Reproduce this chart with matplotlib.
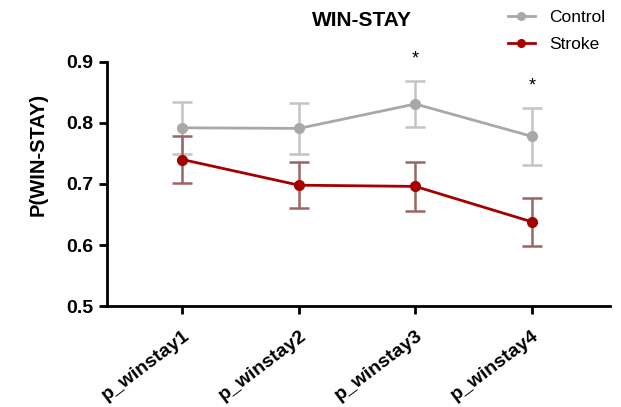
import numpy as np
import matplotlib.pyplot as plt
from matplotlib.lines import Line2D

plt.rcParams['font.family'] = ['Liberation Sans', 'DejaVu Sans']

# 数据
categories = ['p_winstay1', 'p_winstay2', 'p_winstay3', 'p_winstay4']
control_mean = [0.792, 0.791, 0.831, 0.778]
control_sem = [0.043, 0.042, 0.038, 0.047]
stroke_mean = [0.740, 0.698, 0.696, 0.638]
stroke_sem = [0.039, 0.038, 0.040, 0.039]
sig_marks = ['', '', '*', '*']

control_color = '#a8a8a8'
stroke_color = '#a50000'

fig = plt.figure(figsize=(6.21, 4.07), dpi=100)
ax = fig.add_axes([0.172, 0.248, 0.81, 0.6])

x = np.arange(len(categories))

# 对照组
ax.errorbar(x, control_mean, yerr=control_sem, color=control_color, ecolor='#c4c4c4',
            marker='o', markersize=7, linewidth=2, elinewidth=1.8, capsize=7, capthick=1.8,
            zorder=3)
# 卒中组
ax.errorbar(x, stroke_mean, yerr=stroke_sem, color=stroke_color, ecolor='#9a6565',
            marker='o', markersize=7, linewidth=2, elinewidth=1.8, capsize=7, capthick=1.8,
            zorder=4)

# 显著性标记
for i, s in enumerate(sig_marks):
    if s:
        top = control_mean[i] + control_sem[i]
        ax.text(x[i], top + 0.022, s, ha='center', va='bottom', fontsize=13)

ax.set_xlim(-0.65, 3.67)
ax.set_ylim(0.5, 0.9)
ax.set_yticks([0.5, 0.6, 0.7, 0.8, 0.9])
ax.set_yticklabels(['0.5', '0.6', '0.7', '0.8', '0.9'], fontsize=14, fontweight='bold')
ax.set_xticks(x)
ax.set_xticklabels(categories, rotation=37, ha='right', rotation_mode='anchor',
                   fontsize=14, fontweight='bold')
ax.tick_params(axis='x', pad=9)
ax.set_ylabel('P(WIN-STAY)', fontsize=14.5, fontweight='bold')
ax.yaxis.set_label_coords(-0.118, 0.62)

for side in ['top', 'right']:
    ax.spines[side].set_visible(False)
for side in ['left', 'bottom']:
    ax.spines[side].set_linewidth(2)
ax.tick_params(axis='both', width=2, length=6)

fig.text(0.583, 0.95, 'WIN-STAY', ha='center', va='center', fontsize=15, fontweight='bold')

handles = [
    Line2D([], [], color=control_color, marker='o', markersize=5.5, linewidth=2),
    Line2D([], [], color=stroke_color, marker='o', markersize=5.5, linewidth=2),
]
fig.legend(handles, ['Control', 'Stroke'], loc='upper right', bbox_to_anchor=(1.0, 1.015),
           frameon=False, fontsize=12.5, handlelength=1.6, labelspacing=0.7)

fig.savefig('out.png', dpi=100)
